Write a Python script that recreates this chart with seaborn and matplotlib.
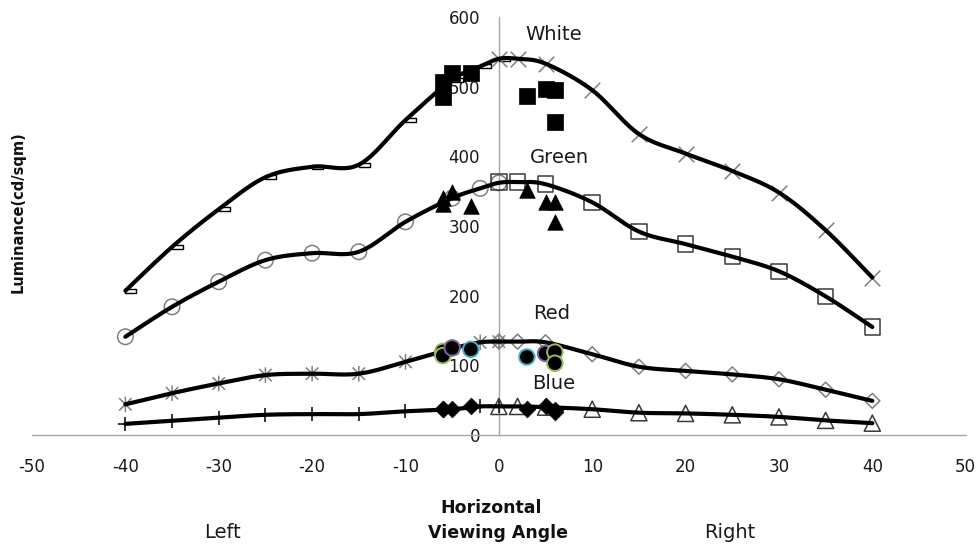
import numpy as np
import matplotlib
matplotlib.use("Agg")
import matplotlib.pyplot as plt
from matplotlib.path import Path
import seaborn as sns

# ---------------- data ----------------
angles_left = [-40, -35, -30, -25, -20, -15, -10, -5, -2, 0]
angles_right = [0, 2, 5, 10, 15, 20, 25, 30, 35, 40]

white_left = [207, 270, 324, 370, 385, 388, 452, 510, 529, 540]
white_right = [540, 540, 533, 495, 432, 404, 379, 348, 294, 226]
green_left = [141, 184, 220, 251, 261, 263, 306, 340, 354, 362]
green_right = [363, 363, 360, 334, 292, 274, 256, 235, 199, 155]
red_left = [44, 60, 74, 86, 88, 88, 105, 124, 133, 134]
red_right = [134, 134, 133, 116, 98, 92, 87, 80, 65, 49]
blue_left = [16, 20.5, 25, 29, 30, 30, 34, 37, 41, 41]
blue_right = [41, 41, 40, 37, 32, 31, 29, 26, 21, 17]

meas_angles = [-6, -6, -5, -3, 3, 5, 6, 6]
white_meas = [507, 485, 519, 519, 486, 496, 495, 450]
green_meas = [340, 331, 349, 328, 352, 335, 335, 306]
red_meas = [120, 114, 125, 123, 112, 117, 119, 103]
blue_meas = [37, 37, 37, 41, 37, 42, 36, 33]
red_meas_edges = ["#9BBB59", "#9BBB59", "#8064A2", "#4BACC6",
                  "#4BACC6", "#8064A2", "#9BBB59", "#9BBB59"]

series_labels = ["White", "Green", "Red", "Blue"]
label_pos_x = [5.85, 6.5, 5.67, 5.9]
label_pos_y = [575, 398, 175, 74]

x_ticks = [-50, -40, -30, -20, -10, 0, 10, 20, 30, 40, 50]
y_ticks = [0, 100, 200, 300, 400, 500, 600]

# ---------------- style ----------------
sns.set_theme(style="white")
plt.rcParams["font.family"] = ["DejaVu Sans"]

W, H = 980, 546
fig = plt.figure(figsize=(W / 100, H / 100), dpi=100)
ax = fig.add_axes([32 / W, (H - 435) / H, 933.7 / W, 418 / H])
ax.set_xlim(-50, 50)
ax.set_ylim(0, 600)


def smooth(xs, ys, n=24):
    sx, sy = 9.34, 0.697
    P = np.column_stack([np.asarray(xs, float) * sx, np.asarray(ys, float) * sy])
    out = [P[0]]
    for i in range(len(P) - 1):
        p0 = P[i - 1] if i > 0 else P[i]
        p1, p2 = P[i], P[i + 1]
        p3 = P[i + 2] if i + 2 < len(P) else P[i + 1]
        c1 = p1 + (p2 - p0) / 6
        c2 = p2 - (p3 - p1) / 6
        t = np.linspace(0, 1, n)[1:, None]
        B = (1 - t) ** 3 * p1 + 3 * (1 - t) ** 2 * t * c1 + 3 * (1 - t) * t ** 2 * c2 + t ** 3 * p2
        out.extend(B)
    out = np.array(out)
    return out[:, 0] / sx, out[:, 1] / sy


# custom markers
dash_marker = Path([(0, -0.17), (1, -0.17), (1, 0.17), (0, 0.17), (0, -0.17)],
                   [Path.MOVETO, Path.LINETO, Path.LINETO, Path.LINETO, Path.CLOSEPOLY])
star_marker = Path([(-0.8, -0.8), (0.8, 0.8), (-0.8, 0.8), (0.8, -0.8), (0, -1), (0, 1)],
                   [Path.MOVETO, Path.LINETO, Path.MOVETO, Path.LINETO, Path.MOVETO, Path.LINETO])

curves = [
    (white_left, white_right),
    (green_left, green_right),
    (red_left, red_right),
    (blue_left, blue_right),
]

for left, right in curves:
    xs = angles_left + angles_right[1:]
    ys = left + right[1:]
    sx_, sy_ = smooth(xs, ys)
    sns.lineplot(x=sx_, y=sy_, sort=False, estimator=None, color="black",
                 linewidth=3.0, ax=ax, zorder=4)

gray = "#7F7F7F"
dark = "#3A3A3A"
# left-side markers
sns.scatterplot(x=angles_left, y=white_left, marker=dash_marker, s=260,
                facecolor="white", edgecolor="black", linewidth=1.0, ax=ax, zorder=3, clip_on=False)
sns.scatterplot(x=angles_left, y=green_left, marker="o", s=125,
                facecolor="none", edgecolor=gray, linewidth=1.1, ax=ax, zorder=3, clip_on=False)
sns.scatterplot(x=angles_left, y=red_left, marker=star_marker, s=125,
                facecolor="none", edgecolor=gray, linewidth=1.1, ax=ax, zorder=3, clip_on=False)
sns.scatterplot(x=angles_left, y=blue_left, marker="+", s=110,
                color="black", linewidth=1.1, ax=ax, zorder=3, clip_on=False)
# right-side markers
sns.scatterplot(x=angles_right, y=white_right, marker="x", s=125,
                color=gray, linewidth=1.1, ax=ax, zorder=3, clip_on=False)
sns.scatterplot(x=angles_right, y=green_right, marker="s", s=125,
                facecolor="none", edgecolor=dark, linewidth=1.1, ax=ax, zorder=3, clip_on=False)
sns.scatterplot(x=angles_right, y=red_right, marker="D", s=58,
                facecolor="none", edgecolor=gray, linewidth=1.1, ax=ax, zorder=3, clip_on=False)
sns.scatterplot(x=angles_right, y=blue_right, marker="^", s=135,
                facecolor="none", edgecolor=dark, linewidth=1.1, ax=ax, zorder=3, clip_on=False)

# measured points
sns.scatterplot(x=meas_angles, y=white_meas, marker="s", s=120,
                color="black", edgecolor="black", linewidth=0.5, ax=ax, zorder=6)
sns.scatterplot(x=meas_angles, y=green_meas, marker="^", s=125,
                color="black", edgecolor="black", linewidth=0.5, ax=ax, zorder=6)
sns.scatterplot(x=meas_angles, y=red_meas, marker="o", s=125,
                facecolor="black", edgecolor=red_meas_edges, linewidth=1.4, ax=ax, zorder=6)
sns.scatterplot(x=meas_angles, y=blue_meas, marker="D", s=72,
                color="black", edgecolor="black", linewidth=0.5, ax=ax, zorder=6)

for lab, lx, ly in zip(series_labels, label_pos_x, label_pos_y):
    ax.text(lx, ly, lab, fontsize=14, ha="center", va="center", color="#1a1a1a")

# axes styling
for side in ["top", "right"]:
    ax.spines[side].set_visible(False)
ax.spines["left"].set_position(("data", 0))
ax.spines["bottom"].set_position(("data", 0))
for side in ["left", "bottom"]:
    ax.spines[side].set_color("#A6A6A6")
    ax.spines[side].set_linewidth(1.0)
ax.set_xticks(x_ticks)
ax.set_yticks(y_ticks)
ax.set_xticklabels([str(v) for v in x_ticks])
ax.set_yticklabels([str(v) for v in y_ticks])
ax.tick_params(axis="both", direction="out", length=4.5, width=1.0, color="#A6A6A6",
               labelsize=12, labelcolor="#1a1a1a")
ax.tick_params(axis="x", pad=12)
ax.tick_params(axis="y", pad=9)
ax.grid(False)
ax.set_facecolor("white")
ax.set_xlabel("")
ax.set_ylabel("")

fig.text(18 / W, 1 - 212 / H, "Luminance(cd/sqm)", rotation=90, fontsize=10.5,
         fontweight="bold", ha="center", va="center", color="#111111")
fig.text(491 / W, 1 - 508 / H, "Horizontal", fontsize=12.5, fontweight="bold",
         ha="center", va="center", color="#111111")
fig.text(498 / W, 1 - 533 / H, "Viewing Angle", fontsize=12.5, fontweight="bold",
         ha="center", va="center", color="#111111")
fig.text(222 / W, 1 - 532 / H, "Left", fontsize=14, ha="center", va="center", color="#1a1a1a")
fig.text(730 / W, 1 - 532 / H, "Right", fontsize=14, ha="center", va="center", color="#1a1a1a")

fig.savefig("out.png", dpi=100, facecolor="white")
